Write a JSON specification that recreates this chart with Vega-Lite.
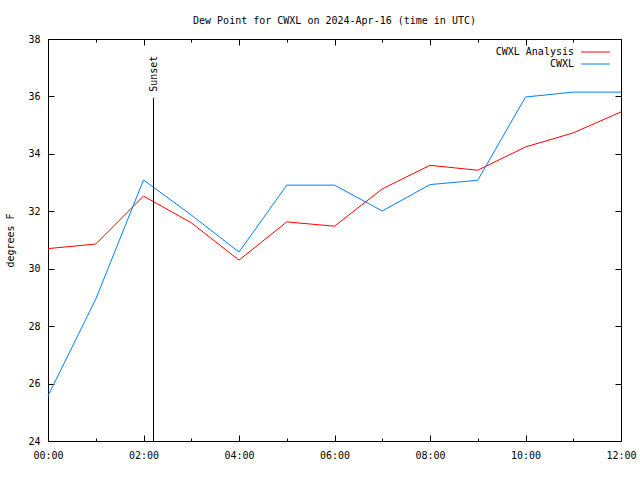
{
  "$schema": "https://vega.github.io/schema/vega-lite/v6.json",
  "width": 573,
  "height": 402,
  "autosize": {"type": "none"},
  "padding": {"left": 48, "top": 39, "right": 19, "bottom": 39},
  "background": "white",
  "config": {
    "view": {"stroke": null},
    "font": "DejaVu Sans Mono",
    "axis": {"grid": false, "domainColor": "black", "tickColor": "black", "labelFont": "DejaVu Sans Mono", "labelFontSize": 10, "labelColor": "black", "titleFont": "DejaVu Sans Mono", "titleFontSize": 10, "titleFontWeight": "normal", "titleColor": "black"}
  },
  "title": {"text": "Dew Point for CWXL on 2024-Apr-16 (time in UTC)", "font": "DejaVu Sans Mono", "fontSize": 10, "fontWeight": "normal", "anchor": "middle", "offset": 8},
  "datasets": {
    "series": [
      {"hour": 0, "series": "CWXL Analysis", "dewpoint": 30.7},
      {"hour": 1, "series": "CWXL Analysis", "dewpoint": 30.86},
      {"hour": 2, "series": "CWXL Analysis", "dewpoint": 32.53},
      {"hour": 3, "series": "CWXL Analysis", "dewpoint": 31.6},
      {"hour": 4, "series": "CWXL Analysis", "dewpoint": 30.3},
      {"hour": 5, "series": "CWXL Analysis", "dewpoint": 31.63},
      {"hour": 6, "series": "CWXL Analysis", "dewpoint": 31.48},
      {"hour": 7, "series": "CWXL Analysis", "dewpoint": 32.78},
      {"hour": 8, "series": "CWXL Analysis", "dewpoint": 33.6},
      {"hour": 9, "series": "CWXL Analysis", "dewpoint": 33.43},
      {"hour": 10, "series": "CWXL Analysis", "dewpoint": 34.24},
      {"hour": 11, "series": "CWXL Analysis", "dewpoint": 34.73},
      {"hour": 12, "series": "CWXL Analysis", "dewpoint": 35.46},
      {"hour": 0, "series": "CWXL", "dewpoint": 25.57},
      {"hour": 1, "series": "CWXL", "dewpoint": 28.94},
      {"hour": 2, "series": "CWXL", "dewpoint": 33.09},
      {"hour": 3, "series": "CWXL", "dewpoint": 31.87},
      {"hour": 4, "series": "CWXL", "dewpoint": 30.58},
      {"hour": 5, "series": "CWXL", "dewpoint": 32.91},
      {"hour": 6, "series": "CWXL", "dewpoint": 32.91},
      {"hour": 7, "series": "CWXL", "dewpoint": 32.01},
      {"hour": 8, "series": "CWXL", "dewpoint": 32.93},
      {"hour": 9, "series": "CWXL", "dewpoint": 33.08},
      {"hour": 10, "series": "CWXL", "dewpoint": 35.98},
      {"hour": 11, "series": "CWXL", "dewpoint": 36.15},
      {"hour": 12, "series": "CWXL", "dewpoint": 36.15}
    ],
    "sunset": [
      {"hour": 2.21, "bottom": 24, "top": 35.95, "label": "Sunset"}
    ]
  },
  "resolve": {"axis": {"x": "independent", "y": "independent"}},
  "layer": [
    {
      "data": {"name": "series"},
      "mark": {"type": "line", "strokeWidth": 1, "interpolate": "linear"},
      "encoding": {
        "x": {"field": "hour", "type": "quantitative", "scale": {"domain": [0, 12], "nice": false, "zero": false},
          "axis": {"title": null, "orient": "bottom", "values": [0,1,2,3,4,5,6,7,8,9,10,11,12],
            "labelExpr": "datum.value % 2 === 0 ? ((datum.value < 10 ? '0' : '') + datum.value + ':00') : ''",
            "tickSize": {"condition": {"test": "datum.value % 2 === 0", "value": -6}, "value": -3},
            "labelPadding": 15, "labelFlush": false, "labelOverlap": false}},
        "y": {"field": "dewpoint", "type": "quantitative", "scale": {"domain": [24, 38], "nice": false, "zero": false},
          "axis": {"title": "degrees F", "orient": "left", "values": [24,26,28,30,32,34,36,38], "tickSize": -6, "labelPadding": 14, "titlePadding": 12}},
        "color": {"field": "series", "type": "nominal",
          "scale": {"domain": ["CWXL Analysis", "CWXL"], "range": ["#ff0000", "#0080ff"]},
          "legend": {"title": null, "orient": "none", "legendX": 542.5, "legendY": 8, "symbolType": "M-3.6,0H3.6", "symbolSize": 64, "symbolStrokeWidth": 1, "symbolFillColor": "transparent", "labelAlign": "right", "labelOffset": -26.5, "labelFont": "DejaVu Sans Mono", "labelFontSize": 10, "labelColor": "black", "rowPadding": 2, "padding": 0}}
      }
    },
    {
      "data": {"name": "sunset"},
      "mark": {"type": "rule", "color": "black", "strokeWidth": 1},
      "encoding": {
        "x": {"field": "hour", "type": "quantitative",
          "axis": {"title": null, "orient": "top", "values": [0,1,2,3,4,5,6,7,8,9,10,11,12], "labels": false,
            "tickSize": {"condition": {"test": "datum.value % 2 === 0", "value": -6}, "value": -3}}},
        "y": {"field": "bottom", "type": "quantitative",
          "axis": {"title": null, "orient": "right", "values": [24,26,28,30,32,34,36,38], "labels": false, "tickSize": -6}},
        "y2": {"field": "top"}
      }
    },
    {
      "data": {"name": "sunset"},
      "mark": {"type": "text", "angle": 270, "align": "left", "baseline": "middle", "dx": 6, "dy": 0, "font": "DejaVu Sans Mono", "fontSize": 10, "color": "black"},
      "encoding": {
        "x": {"field": "hour", "type": "quantitative", "axis": null},
        "y": {"field": "top", "type": "quantitative", "axis": null},
        "text": {"field": "label"}
      }
    }
  ]
}
